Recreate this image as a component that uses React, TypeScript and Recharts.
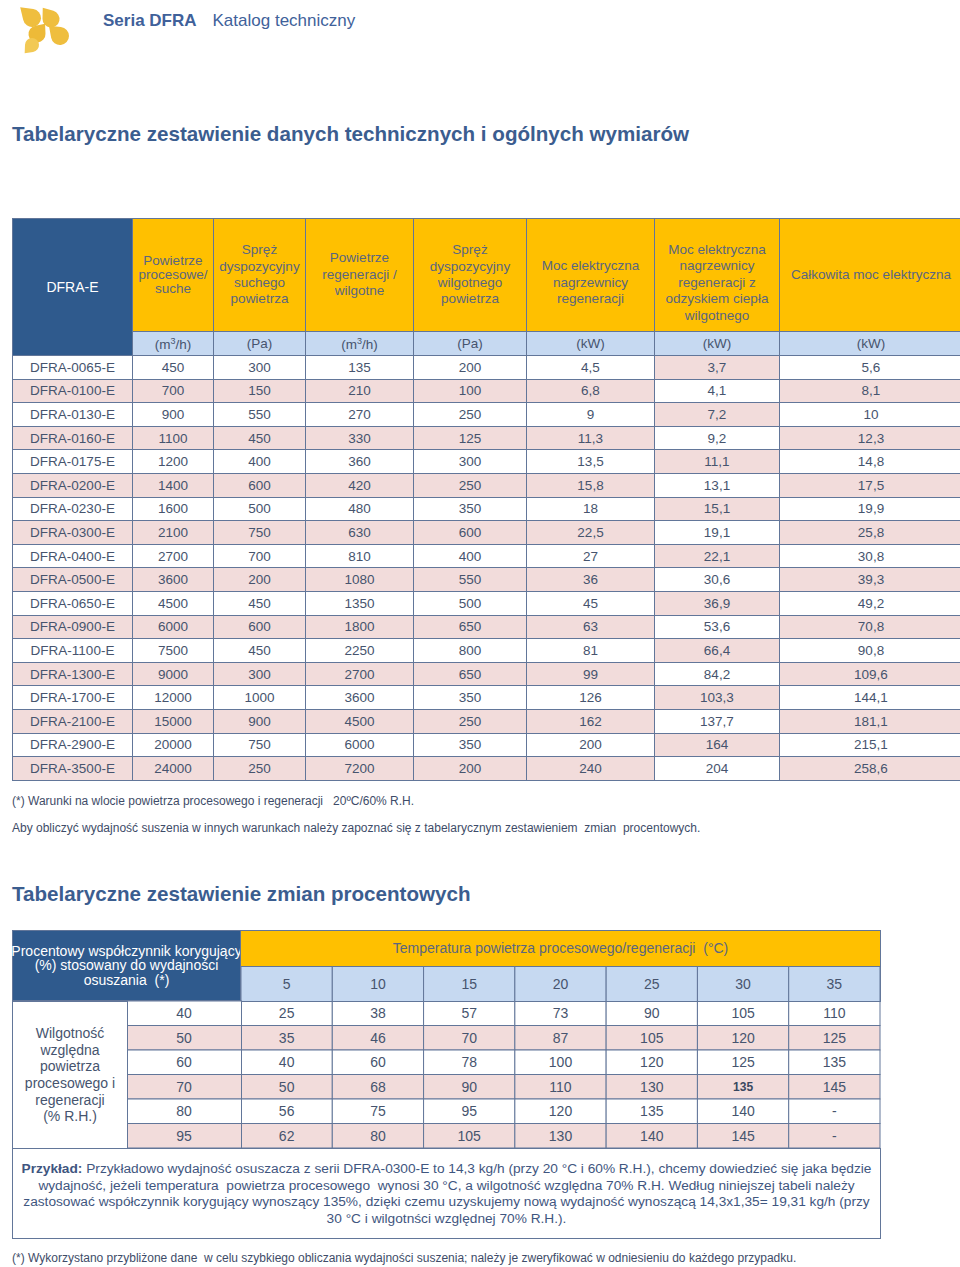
import React from 'react';
import { ScatterChart, Scatter, XAxis, YAxis } from 'recharts';

// Tabela 1 – dane techniczne
const models = ['DFRA-0065-E', 'DFRA-0100-E', 'DFRA-0130-E', 'DFRA-0160-E', 'DFRA-0175-E', 'DFRA-0200-E', 'DFRA-0230-E', 'DFRA-0300-E', 'DFRA-0400-E', 'DFRA-0500-E', 'DFRA-0650-E', 'DFRA-0900-E', 'DFRA-1100-E', 'DFRA-1300-E', 'DFRA-1700-E', 'DFRA-2100-E', 'DFRA-2900-E', 'DFRA-3500-E'];
const processAir = [450, 700, 900, 1100, 1200, 1400, 1600, 2100, 2700, 3600, 4500, 6000, 7500, 9000, 12000, 15000, 20000, 24000];
const pressureDry = [300, 150, 550, 450, 400, 600, 500, 750, 700, 200, 450, 600, 450, 300, 1000, 900, 750, 250];
const regenAir = [135, 210, 270, 330, 360, 420, 480, 630, 810, 1080, 1350, 1800, 2250, 2700, 3600, 4500, 6000, 7200];
const pressureWet = [200, 100, 250, 125, 300, 250, 350, 600, 400, 550, 500, 650, 800, 650, 350, 250, 350, 200];
const heaterPower = [4.5, 6.8, 9, 11.3, 13.5, 15.8, 18, 22.5, 27, 36, 45, 63, 81, 99, 126, 162, 200, 240];
const recoveryPower = [3.7, 4.1, 7.2, 9.2, 11.1, 13.1, 15.1, 19.1, 22.1, 30.6, 36.9, 53.6, 66.4, 84.2, 103.3, 137.7, 164, 204];
const totalPower = [5.6, 8.1, 10, 12.3, 14.8, 17.5, 19.9, 25.8, 30.8, 39.3, 49.2, 70.8, 90.8, 109.6, 144.1, 181.1, 215.1, 258.6];

const headerLines = [
  ['Powietrze', 'procesowe/', 'suche'],
  ['Spręż', 'dyspozycyjny', 'suchego', 'powietrza'],
  ['Powietrze', 'regeneracji /', 'wilgotne'],
  ['Spręż', 'dyspozycyjny', 'wilgotnego', 'powietrza'],
  ['Moc elektryczna', 'nagrzewnicy', 'regeneracji'],
  ['Moc elektryczna', 'nagrzewnicy', 'regeneracji z', 'odzyskiem ciepła', 'wilgotnego'],
  ['Całkowita moc elektryczna'],
];
const unitLabels = ['m3/h', 'Pa', 'm3/h', 'Pa', 'kW', 'kW', 'kW'];

// Tabela 2 – współczynniki korygujące (%)
const temps = [5, 10, 15, 20, 25, 30, 35];
const rhLevels = [40, 50, 60, 70, 80, 95];
const factorsRh40 = [25, 38, 57, 73, 90, 105, 110];
const factorsRh50 = [35, 46, 70, 87, 105, 120, 125];
const factorsRh60 = [40, 60, 78, 100, 120, 125, 135];
const factorsRh70 = [50, 68, 90, 110, 130, 135, 145];
const factorsRh80 = [56, 75, 95, 120, 135, 140, null];
const factorsRh95 = [62, 80, 105, 130, 140, 145, null];
const factorRows = [factorsRh40, factorsRh50, factorsRh60, factorsRh70, factorsRh80, factorsRh95];

const FONT = '"Liberation Sans", Arial, sans-serif';
const BLUE = '#2F5A8D';
const YELLOW = '#FFC000';
const LIGHT = '#C6D9F1';
const PINK = '#F2DCDB';
const LINE = '#627699';
const TXT = '#46546E';
const HEAD_TXT = '#5A6680';
const TITLE = '#3B5D8F';
const NOTE = '#3E4C68';

const fmt = (v: number | null) => (v === null ? '-' : String(v).replace('.', ','));

const PLOT_W = 639;
const PLOT_H = 147;
const CELL_W = PLOT_W / temps.length;
const CELL_H = PLOT_H / rhLevels.length;

const factorPoints = rhLevels.flatMap((rh, r) =>
  temps.map((t, c) => ({ temp: String(t), rh: String(rh), value: factorRows[r][c] }))
);

const TempTick = (props: any) => {
  const { x, payload } = props;
  return (
    <g>
      <rect x={x - CELL_W / 2} y={0.5} width={CELL_W} height={35} fill={LIGHT} stroke={LINE} strokeWidth={1} />
      <text x={x} y={18} textAnchor="middle" dominantBaseline="central" fill={TXT} fontSize={14} fontFamily={FONT}>
        {payload.value}
      </text>
    </g>
  );
};

const RhTick = (props: any) => {
  const { y, payload } = props;
  const r = rhLevels.indexOf(Number(payload.value));
  return (
    <g>
      <rect x={0.5} y={y - CELL_H / 2} width={114} height={CELL_H} fill={r % 2 ? PINK : '#fff'} stroke={LINE} strokeWidth={1} />
      <text x={57} y={y} textAnchor="middle" dominantBaseline="central" fill={TXT} fontSize={14} fontFamily={FONT}>
        {payload.value}
      </text>
    </g>
  );
};

const FactorCell = (props: any) => {
  const { cx, cy, payload } = props;
  const r = rhLevels.indexOf(Number(payload.rh));
  // komórka z przykładu (30°C, 70% R.H.)
  const marked = payload.temp === '30' && payload.rh === '70';
  return (
    <g>
      <rect x={cx - CELL_W / 2} y={cy - CELL_H / 2} width={CELL_W} height={CELL_H} fill={r % 2 ? PINK : '#fff'} stroke={LINE} strokeWidth={1} />
      <text
        x={cx}
        y={cy}
        textAnchor="middle"
        dominantBaseline="central"
        fill={marked ? '#3A4860' : TXT}
        fontSize={marked ? 12 : 14}
        fontWeight={marked ? 'bold' : 'normal'}
        fontFamily={FONT}
      >
        {fmt(payload.value)}
      </text>
    </g>
  );
};

const dropPath = (cx: number, cy: number, r: number, ang: number, d: number) => {
  const tx = cx + d * Math.cos(ang);
  const ty = cy + d * Math.sin(ang);
  const a = Math.acos(r / d);
  const p1x = cx + r * Math.cos(ang + a);
  const p1y = cy + r * Math.sin(ang + a);
  const p2x = cx + r * Math.cos(ang - a);
  const p2y = cy + r * Math.sin(ang - a);
  return `M${tx},${ty} L${p1x},${p1y} A${r},${r} 0 1 1 ${p2x},${p2y} Z`;
};

const Logo = () => (
  <svg width={80} height={56} style={{ position: 'absolute', left: 0, top: 0 }}>
    <path d={dropPath(32, 18, 9, -2.4, 16)} fill="#EFBE3E" />
    <path d={dropPath(51, 19, 8.5, -2.2, 14)} fill="#EFBE3E" />
    <path d={dropPath(37, 34, 8.5, -0.9, 13)} fill="#EDBA38" />
    <path d={dropPath(60, 36, 9, -2.4, 15)} fill="#EFBE3E" />
    <path d={dropPath(32, 45, 7, 2.3, 11)} fill="#F2C955" />
  </svg>
);

const colWidths = [120, 81, 92, 108, 113, 128, 125, 183];
const headPadTop = [0, 0, 0, 0, 16, 16, 0];

const cellBorder = `1px solid ${LINE}`;

export default function App() {
  const dataCols = [processAir, pressureDry, regenAir, pressureWet, heaterPower, recoveryPower, totalPower];
  return (
    <div style={{ position: 'relative', width: 960, height: 1267, overflow: 'hidden', background: '#fff', fontFamily: FONT }}>
      <style>{'body{margin:0}'}</style>
      <Logo />
      <div style={{ position: 'absolute', left: 103, top: 11, fontSize: 17, lineHeight: '20px', color: '#40619A', whiteSpace: 'nowrap' }}>
        <b>Seria DFRA</b>
        <span style={{ marginLeft: 16 }}>Katalog techniczny</span>
      </div>

      <div style={{ position: 'absolute', left: 12, top: 123, fontSize: 20.6, fontWeight: 'bold', lineHeight: '22px', color: TITLE, whiteSpace: 'nowrap' }}>
        Tabelaryczne zestawienie danych technicznych i ogólnych wymiarów
      </div>

      <table
        style={{
          position: 'absolute',
          left: 12,
          top: 218,
          borderCollapse: 'collapse',
          tableLayout: 'fixed',
          width: colWidths.reduce((a, b) => a + b, 0),
          fontSize: 13.5,
          color: TXT,
        }}
      >
        <colgroup>
          {colWidths.map((w, i) => (
            <col key={i} style={{ width: w }} />
          ))}
        </colgroup>
        <tbody>
          <tr style={{ height: 113 }}>
            <td rowSpan={2} style={{ background: BLUE, color: '#fff', textAlign: 'center', border: cellBorder, fontSize: 14, padding: 0 }}>
              DFRA-E
            </td>
            {headerLines.map((lines, i) => (
              <td
                key={i}
                style={{
                  background: YELLOW,
                  color: HEAD_TXT,
                  textAlign: 'center',
                  border: cellBorder,
                  padding: 0,
                  paddingTop: headPadTop[i],
                  lineHeight: i === 0 ? '14px' : '16.4px',
                }}
              >
                {lines.map((l, j) => (
                  <div key={j}>{l}</div>
                ))}
              </td>
            ))}
          </tr>
          <tr style={{ height: 24 }}>
            {unitLabels.map((u, i) => (
              <td key={i} style={{ background: LIGHT, textAlign: 'center', border: cellBorder, padding: 0 }}>
                (
                {u === 'm3/h' ? (
                  <span>
                    m<sup style={{ fontSize: 9 }}>3</sup>/h
                  </span>
                ) : (
                  u
                )}
                )
              </td>
            ))}
          </tr>
          {models.map((m, r) => (
            <tr key={m} style={{ height: 23.6 }}>
              <td style={{ background: r % 2 ? PINK : '#fff', textAlign: 'center', border: cellBorder, padding: 0 }}>{m}</td>
              {dataCols.map((col, c) => {
                const pink = c === 5 ? r % 2 === 0 : r % 2 === 1;
                return (
                  <td key={c} style={{ background: pink ? PINK : '#fff', textAlign: 'center', border: cellBorder, padding: 0 }}>
                    {fmt(col[r])}
                  </td>
                );
              })}
            </tr>
          ))}
        </tbody>
      </table>

      <div style={{ position: 'absolute', left: 12, top: 794, fontSize: 12, lineHeight: '14px', color: NOTE, whiteSpace: 'nowrap' }}>
        (*) Warunki na wlocie powietrza procesowego i regeneracji&nbsp;&nbsp; 20ºC/60% R.H.
      </div>
      <div style={{ position: 'absolute', left: 12, top: 821, fontSize: 12, lineHeight: '14px', color: NOTE, whiteSpace: 'nowrap' }}>
        Aby obliczyć wydajność suszenia w innych warunkach należy zapoznać się z tabelarycznym zestawieniem&nbsp; zmian&nbsp; procentowych.
      </div>

      <div style={{ position: 'absolute', left: 12, top: 883, fontSize: 20.6, fontWeight: 'bold', lineHeight: '22px', color: TITLE, whiteSpace: 'nowrap' }}>
        Tabelaryczne zestawienie zmian procentowych
      </div>

      {/* Tabela 2 */}
      <div
        style={{
          position: 'absolute',
          left: 12,
          top: 930,
          width: 229,
          height: 71,
          boxSizing: 'border-box',
          background: BLUE,
          border: cellBorder,
          color: '#fff',
          fontSize: 14,
          lineHeight: '14.5px',
          textAlign: 'center',
          whiteSpace: 'nowrap',
          display: 'flex',
          flexDirection: 'column',
          justifyContent: 'center',
          alignItems: 'center',
          paddingBottom: 0,
        }}
      >
        <div>Procentowy współczynnik korygujący</div>
        <div>(%) stosowany do wydajności</div>
        <div>osuszania&nbsp; (*)</div>
      </div>
      <div
        style={{
          position: 'absolute',
          left: 240,
          top: 930,
          width: 641,
          height: 37,
          boxSizing: 'border-box',
          background: YELLOW,
          border: cellBorder,
          color: HEAD_TXT,
          fontSize: 14,
          lineHeight: '35px',
          textAlign: 'center',
        }}
      >
        Temperatura powietrza procesowego/regeneracji&nbsp; (°C)
      </div>
      <div
        style={{
          position: 'absolute',
          left: 12,
          top: 1001,
          width: 116,
          height: 148,
          boxSizing: 'border-box',
          background: '#fff',
          border: cellBorder,
          color: TXT,
          fontSize: 14,
          lineHeight: '16.6px',
          textAlign: 'center',
          display: 'flex',
          flexDirection: 'column',
          justifyContent: 'center',
        }}
      >
        <div>Wilgotność</div>
        <div>względna</div>
        <div>powietrza</div>
        <div>procesowego i</div>
        <div>regeneracji</div>
        <div>(% R.H.)</div>
      </div>
      <div style={{ position: 'absolute', left: 127, top: 966 }}>
        <ScatterChart width={754} height={183} margin={{ top: 0, right: 1, bottom: 1, left: 0 }}>
          <XAxis
            type="category"
            dataKey="temp"
            orientation="top"
            height={35}
            scale="band"
            allowDuplicatedCategory={false}
            interval={0}
            tickLine={false}
            axisLine={false}
            tick={TempTick}
          />
          <YAxis
            type="category"
            dataKey="rh"
            width={114}
            scale="band"
            reversed
            allowDuplicatedCategory={false}
            interval={0}
            tickLine={false}
            axisLine={false}
            tick={RhTick}
          />
          <Scatter data={factorPoints} shape={FactorCell} isAnimationActive={false} />
        </ScatterChart>
      </div>
      <div
        style={{
          position: 'absolute',
          left: 12,
          top: 1148,
          width: 869,
          height: 91,
          boxSizing: 'border-box',
          border: cellBorder,
          color: '#3F5680',
          fontSize: 13.7,
          lineHeight: '16.5px',
          textAlign: 'center',
          whiteSpace: 'nowrap',
          paddingTop: 12,
        }}
      >
        <div>
          <b>Przykład:</b> Przykładowo wydajność osuszacza z serii DFRA-0300-E to 14,3 kg/h (przy 20 °C i 60% R.H.), chcemy dowiedzieć się jaka będzie
        </div>
        <div>wydajność, jeżeli temperatura&nbsp; powietrza procesowego&nbsp; wynosi 30 °C, a wilgotność względna 70% R.H. Według niniejszej tabeli należy</div>
        <div>zastosować współczynnik korygujący wynoszący 135%, dzięki czemu uzyskujemy nową wydajność wynoszącą 14,3x1,35= 19,31 kg/h (przy</div>
        <div>30 °C i wilgotnści względnej 70% R.H.).</div>
      </div>

      <div style={{ position: 'absolute', left: 12, top: 1251, fontSize: 12, lineHeight: '14px', color: NOTE, whiteSpace: 'nowrap' }}>
        (*) Wykorzystano przybliżone dane&nbsp; w celu szybkiego obliczania wydajności suszenia; należy je zweryfikować w odniesieniu do każdego przypadku.
      </div>
    </div>
  );
}
